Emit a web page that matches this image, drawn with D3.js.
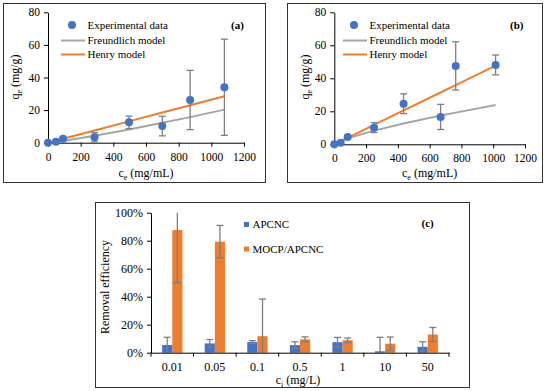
<!DOCTYPE html>
<html>
<head>
<meta charset="utf-8">
<script src="https://cdn.jsdelivr.net/npm/d3@7"></script>
<style>
  body { margin: 0; background: #fff; }
  svg { display: block; font-family: "Liberation Serif", "Times New Roman", serif; }
  .axis path, .axis line { stroke: #000; }
  .axis text { font-family: "Liberation Serif", "Times New Roman", serif; fill: #000; }
</style>
</head>
<body>
<svg width="550" height="391"></svg>
<script>
// panel (a) data
var cA = [0, 49, 92, 285, 496, 700, 870, 1080];
var qA = [0, 0.6, 2.5, 3.3, 12.5, 10.2, 26.2, 34];
var errA = [0, 0, 0, 2.8, 3.8, 6, 18.2, 29.5];
var freundA = [0, 0.5, 1.1, 4.2, 8.1, 12.2, 15.7, 20.3];
var henryA = [0, 1.3, 2.4, 7.5, 13.1, 18.5, 23, 28.5];

// panel (b) data
var cB = [0, 40, 84, 250, 436, 669, 764, 1015];
var qB = [0, 1, 4.4, 10.1, 24.6, 16.6, 47.5, 48.1];
var errB = [0, 0, 0, 3, 6, 7.6, 14.6, 6];
var freundB = [0, 2.1, 3.6, 8.3, 12.6, 17.4, 19.2, 23.8];
var henryB = [0, 1.9, 3.9, 11.8, 20.5, 31.4, 35.9, 47.7];

// panel (c) data
var conc = ["0.01", "0.05", "0.1", "0.5", "1", "10", "50"];
var apcnc = [5.5, 6.6, 7.6, 5.4, 7.5, 1, 4.2];
var apcncErr = [5.5, 2.8, 1, 2.4, 3.4, 10, 3.6];
var mocp = [87.6, 79.3, 11.8, 9.5, 8.9, 6.4, 13];
var mocpErr = [37.6, 11.6, 26.5, 1.8, 1.6, 4.8, 5];

var xTicks = [0, 200, 400, 600, 800, 1000, 1200];
var yTicks = [0, 20, 40, 60, 80];
var pctTicks = [0, 0.2, 0.4, 0.6, 0.8, 1];

var blue = "#4472C4", orange = "#ED7D31", gray = "#A5A5A5", errColor = "#7F7F7F";

var svg = d3.select("svg");

// frame boxes
svg.append("rect").attr("x", 3.5).attr("y", 3.5).attr("width", 262).attr("height", 179)
   .attr("fill", "none").attr("stroke", "#333");
svg.append("rect").attr("x", 287.5).attr("y", 3.5).attr("width", 255).attr("height", 179)
   .attr("fill", "none").attr("stroke", "#333");
svg.append("rect").attr("x", 95.5).attr("y", 202.5).attr("width", 374).attr("height", 185)
   .attr("fill", "none").attr("stroke", "#333");

function scatterPanel(opts) {
    var x = d3.scaleLinear().domain([0, 1200]).range(opts.xr);
    var y = d3.scaleLinear().domain([0, 80]).range(opts.yr);
    var g = svg.append("g");

    g.append("g").attr("class", "axis")
     .attr("transform", "translate(0," + opts.yr[0] + ")")
     .call(d3.axisBottom(x).tickValues(xTicks).tickFormat(d3.format("d")).tickSize(4).tickSizeOuter(0))
     .attr("font-family", null).attr("font-size", 11.5)
     .call(a => a.selectAll("text").attr("dy", "0.95em"));
    g.append("g").attr("class", "axis")
     .attr("transform", "translate(" + opts.xr[0] + ",0)")
     .call(d3.axisLeft(y).tickValues(yTicks).tickFormat(d3.format("d")).tickSize(4).tickSizeOuter(0))
     .attr("font-family", null).attr("font-size", 11.5)
     .call(a => a.selectAll("text").attr("x", -8));

    var line = d3.line().x(d => x(d[0])).y(d => y(d[1]));
    g.append("path").datum(opts.c.map((c, i) => [c, opts.fr[i]]))
     .attr("d", line).attr("fill", "none").attr("stroke", gray).attr("stroke-width", 2);
    g.append("path").datum(opts.c.map((c, i) => [c, opts.he[i]]))
     .attr("d", line).attr("fill", "none").attr("stroke", orange).attr("stroke-width", 2);

    // error bars
    opts.c.forEach(function(c, i) {
        if (!opts.err[i]) return;
        var top = y(opts.q[i] + opts.err[i]), bot = y(Math.max(0, opts.q[i] - opts.err[i]));
        g.append("line").attr("x1", x(c)).attr("x2", x(c)).attr("y1", top).attr("y2", bot)
         .attr("stroke", errColor).attr("stroke-width", 1.3);
        [top, bot].forEach(function(yy) {
            g.append("line").attr("x1", x(c) - 3.5).attr("x2", x(c) + 3.5).attr("y1", yy).attr("y2", yy)
             .attr("stroke", errColor).attr("stroke-width", 1.3);
        });
    });

    g.selectAll("circle.pt").data(opts.c).enter().append("circle")
     .attr("cx", d => x(d)).attr("cy", (d, i) => y(opts.q[i])).attr("r", 4).attr("fill", blue);

    // legend
    var lx = opts.legX, ly = opts.legY;
    g.append("circle").attr("cx", lx + 11).attr("cy", ly).attr("r", 4).attr("fill", blue);
    g.append("line").attr("x1", lx).attr("x2", lx + 24).attr("y1", ly + 15.5).attr("y2", ly + 15.5)
     .attr("stroke", gray).attr("stroke-width", 2);
    g.append("line").attr("x1", lx).attr("x2", lx + 24).attr("y1", ly + 29.5).attr("y2", ly + 29.5)
     .attr("stroke", orange).attr("stroke-width", 2);
    ["Experimental data", "Freundlich model", "Henry model"].forEach(function(t, i) {
        g.append("text").attr("x", lx + 26.5).attr("y", ly + [0, 15.5, 29.5][i]).attr("dy", "0.35em")
         .attr("font-size", 11).text(t);
    });
    g.append("text").attr("x", opts.tagX).attr("y", ly).attr("dy", "0.35em")
     .attr("font-size", 11).attr("font-weight", "bold").text(opts.tag);

    // axis titles
    var xt = g.append("text").attr("x", (opts.xr[0] + opts.xr[1]) / 2).attr("y", 177)
     .attr("text-anchor", "middle").attr("font-size", 12);
    xt.append("tspan").text("c");
    xt.append("tspan").attr("font-size", 8).attr("dy", 2.5).text("e");
    xt.append("tspan").attr("dy", -2.5).text(" (mg/mL)");

    var yt = g.append("text").attr("transform", "translate(" + opts.yTitleX + "," + 77 + ") rotate(-90)")
     .attr("text-anchor", "middle").attr("font-size", 12);
    yt.append("tspan").text("q");
    yt.append("tspan").attr("font-size", 8).attr("dy", 2.5).text("e");
    yt.append("tspan").attr("dy", -2.5).text(" (mg/g)");
}

scatterPanel({
    xr: [48, 244], yr: [142.7, 12.3], c: cA, q: qA, err: errA, fr: freundA, he: henryA,
    legX: 61, legY: 25, tagX: 231, tag: "(a)", yTitleX: 19
});
scatterPanel({
    xr: [334.3, 525], yr: [144.3, 12.3], c: cB, q: qB, err: errB, fr: freundB, he: henryB,
    legX: 343, legY: 25, tagX: 510, tag: "(b)", yTitleX: 309
});

// panel (c) bar chart
var xc = d3.scaleBand().domain(conc).range([151, 449]);
var yc = d3.scaleLinear().domain([0, 1]).range([352.7, 212.7]);
var gc = svg.append("g");

var bw = xc.bandwidth() / 4.19;
var series = [
    { vals: apcnc, err: apcncErr, color: blue, off: -bw },
    { vals: mocp, err: mocpErr, color: orange, off: 0 }
];

series.forEach(function(s) {
    gc.selectAll(null).data(conc).enter().append("rect")
      .attr("x", (d) => xc(d) + xc.bandwidth() / 2 + s.off)
      .attr("y", (d, i) => yc(s.vals[i] / 100))
      .attr("width", bw)
      .attr("height", (d, i) => yc(0) - yc(s.vals[i] / 100))
      .attr("fill", s.color);
});

series.forEach(function(s) {
    conc.forEach(function(d, i) {
        var cx = xc(d) + xc.bandwidth() / 2 + s.off + bw / 2;
        var hi = s.vals[i] + s.err[i], lo = s.vals[i] - s.err[i];
        var top = yc(Math.min(hi, 100) / 100), bot = yc(Math.max(lo, 0) / 100);
        gc.append("line").attr("x1", cx).attr("x2", cx).attr("y1", top).attr("y2", bot)
          .attr("stroke", errColor).attr("stroke-width", 1.3);
        if (hi <= 100) gc.append("line").attr("x1", cx - 3.5).attr("x2", cx + 3.5).attr("y1", top).attr("y2", top)
          .attr("stroke", errColor).attr("stroke-width", 1.3);
        if (lo > 0) gc.append("line").attr("x1", cx - 3.5).attr("x2", cx + 3.5).attr("y1", bot).attr("y2", bot)
          .attr("stroke", errColor).attr("stroke-width", 1.3);
    });
});

gc.append("g").attr("class", "axis")
  .attr("transform", "translate(151,0)")
  .call(d3.axisLeft(yc).tickValues(pctTicks).tickFormat(d3.format(".0%")).tickSize(4).tickSizeOuter(0))
  .attr("font-family", null).attr("font-size", 12)
  .call(a => a.selectAll("text").attr("x", -8));

gc.append("g").attr("class", "axis")
  .attr("transform", "translate(0," + yc(0) + ")")
  .call(d3.axisBottom(xc).tickSize(0).tickSizeOuter(0))
  .attr("font-family", null).attr("font-size", 12)
  .call(a => a.selectAll("text").attr("dy", "1.3em"));

// boundary ticks between categories
d3.range(conc.length + 1).forEach(function(i) {
    var xx = xc.range()[0] + i * xc.step();
    gc.append("line").attr("x1", xx).attr("x2", xx).attr("y1", yc(0)).attr("y2", yc(0) + 4).attr("stroke", "#000");
});

// legend (c)
[["APCNC", blue], ["MOCP/APCNC", orange]].forEach(function(it, i) {
    var ly = 224.5 + i * 24.5;
    gc.append("rect").attr("x", 244).attr("y", ly - 2.5).attr("width", 5).attr("height", 5).attr("fill", it[1]);
    gc.append("text").attr("x", 252.5).attr("y", ly).attr("dy", "0.35em").attr("font-size", 11).text(it[0]);
});
gc.append("text").attr("x", 421.5).attr("y", 223).attr("dy", "0.35em")
  .attr("font-size", 11).attr("font-weight", "bold").text("(c)");

var xtc = gc.append("text").attr("x", 298).attr("y", 384).attr("text-anchor", "middle").attr("font-size", 12);
xtc.append("tspan").text("c");
xtc.append("tspan").attr("font-size", 8).attr("dy", 2.5).text("i");
xtc.append("tspan").attr("dy", -2.5).text(" (mg/L)");

gc.append("text").attr("transform", "translate(109,287) rotate(-90)")
  .attr("text-anchor", "middle").attr("font-size", 12).text("Removal efficiency");
</script>
</body>
</html>
